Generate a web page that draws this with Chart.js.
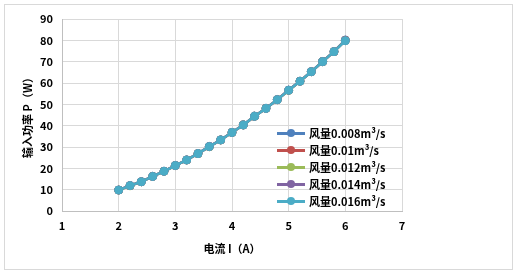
<!DOCTYPE html>
<html>
<head>
<meta charset="utf-8">
<script src="https://cdn.jsdelivr.net/npm/chart.js@4"></script>
<style>
  html, body { margin: 0; padding: 0; background: #fff; }
  #wrap { position: relative; width: 519px; height: 275px; }
  #frame { position: absolute; left: 4px; top: 4px; width: 509px; height: 266px; border: 1px solid #d9d9d9; box-sizing: border-box; pointer-events: none; }
  #legend { position: absolute; left: 277px; top: 126px; font: bold 11px "Noto Sans CJK SC", sans-serif; color: #000; }
  .item { height: 17px; line-height: 14px; position: relative; white-space: nowrap; }
  .swatch { position: absolute; left: 0; top: 6px; width: 28px; height: 2.5px; }
  .dot { position: absolute; left: 10px; top: 3px; width: 8px; height: 8px; border-radius: 50%; }
  .lbl { position: absolute; left: 32px; top: 0; }
</style>
</head>
<body>
<div id="wrap">
  <canvas id="c" width="519" height="275"></canvas>
  <div id="frame"></div>
  <div id="legend"></div>
</div>
<script>
var current = [2, 2.2, 2.4, 2.6, 2.8, 3, 3.2, 3.4, 3.6, 3.8, 4, 4.2, 4.4, 4.6, 4.8, 5, 5.2, 5.4, 5.6, 5.8, 6];
var flow008 = [9.9, 11.9, 13.8, 16.3, 18.7, 21.4, 24.0, 27.0, 30.3, 33.4, 36.9, 40.4, 44.5, 48.2, 52.3, 56.7, 60.9, 65.4, 70.1, 74.8, 80.2];
var flow010 = [9.8, 11.9, 13.7, 16.2, 18.6, 21.3, 23.9, 26.9, 30.2, 33.3, 36.8, 40.3, 44.4, 48.1, 52.2, 56.6, 60.8, 65.3, 70.0, 74.7, 80.0];
var flow012 = [9.8, 11.8, 13.7, 16.2, 18.6, 21.3, 23.9, 26.9, 30.1, 33.3, 36.8, 40.3, 44.4, 48.1, 52.2, 56.5, 60.8, 65.3, 70.0, 74.7, 79.9];
var flow014 = [9.8, 11.9, 13.7, 16.2, 18.6, 21.3, 23.9, 26.9, 30.2, 33.3, 36.8, 40.3, 44.4, 48.1, 52.2, 56.6, 60.8, 65.3, 70.0, 74.7, 79.9];
var flow016 = [9.8, 11.9, 13.7, 16.2, 18.6, 21.3, 23.9, 26.9, 30.2, 33.3, 36.8, 40.3, 44.4, 48.1, 52.2, 56.6, 60.8, 65.3, 70.0, 74.7, 79.8];
var seriesNames = ['风量0.008m³/s', '风量0.01m³/s', '风量0.012m³/s', '风量0.014m³/s', '风量0.016m³/s'];
var seriesData = [flow008, flow010, flow012, flow014, flow016];
var colors = ['#4F81BD', '#C0504D', '#9BBB59', '#8064A2', '#4BACC6'];

var tickFont = { family: '"Noto Sans CJK SC", sans-serif', size: 11, weight: 'bold' };

var datasets = seriesData.map(function(vals, i) {
  return {
    label: seriesNames[i],
    data: vals.map(function(v, j) { return { x: current[j], y: v }; }),
    borderColor: colors[i],
    backgroundColor: colors[i],
    pointBackgroundColor: colors[i],
    pointBorderColor: colors[i],
    pointRadius: 4,
    pointBorderWidth: 1,
    borderWidth: 2.5,
    order: seriesData.length - 1 - i
  };
});

new Chart(document.getElementById('c').getContext('2d'), {
  type: 'line',
  data: { datasets: datasets },
  options: {
    responsive: false,
    animation: false,
    layout: { padding: { left: 0, right: 117, top: 19, bottom: 0 } },
    plugins: { legend: { display: false }, tooltip: { enabled: false } },
    scales: {
      x: {
        type: 'linear', min: 1, max: 7,
        ticks: { stepSize: 1, padding: 8, color: '#000', font: tickFont },
        grid: { color: '#d9d9d9', drawTicks: false },
        border: { color: '#bfbfbf' },
        title: { display: true, text: '电流 I（A）', color: '#000', font: tickFont, padding: { top: 0, bottom: 20 } },
        afterFit: function(s) { s.height = 64; }
      },
      y: {
        min: 0, max: 90,
        ticks: { stepSize: 10, padding: 9, color: '#000', font: tickFont },
        grid: { color: '#d9d9d9', drawTicks: false },
        border: { color: '#bfbfbf' },
        title: { display: true, text: '输入功率 P（W）', color: '#000', font: tickFont, padding: { top: 21, bottom: 0 } },
        afterFit: function(s) { s.width = 62; }
      }
    }
  }
});

var legend = document.getElementById('legend');
seriesNames.forEach(function(name, i) {
  var row = document.createElement('div');
  row.className = 'item';
  row.innerHTML = '<span class="swatch" style="background:' + colors[i] + '"></span>' +
    '<span class="dot" style="background:' + colors[i] + '"></span>' +
    '<span class="lbl">' + name + '</span>';
  legend.appendChild(row);
});
</script>
</body>
</html>
